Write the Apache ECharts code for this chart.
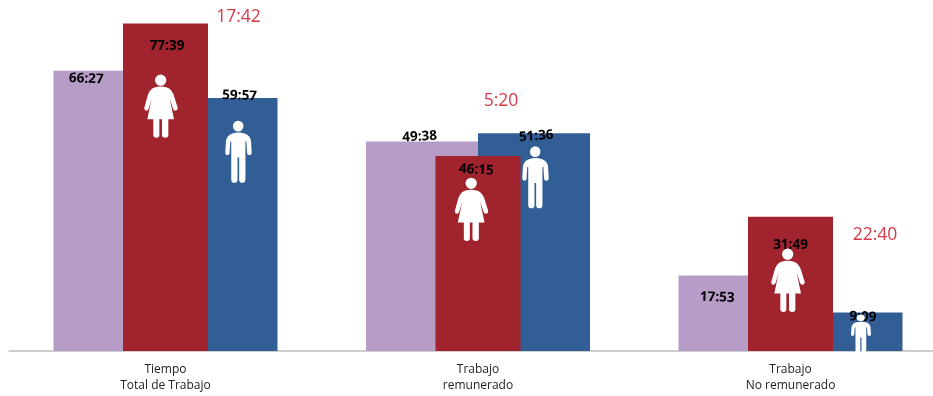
<!DOCTYPE html>
<html>
<head>
<meta charset="utf-8">
<style>html,body{margin:0;padding:0;background:#fff}#chart{width:933px;height:396px}</style>
<script src="https://cdn.jsdelivr.net/npm/echarts@6/dist/echarts.min.js"></script>
</head>
<body>
<div id="chart"></div>
<script>
// Weekly hours of work, written as h:mm
const categories = ['Tiempo\nTotal de Trabajo', 'Trabajo\nremunerado', 'Trabajo\nNo remunerado'];
const totalHours = ['66:27', '49:38', '17:53'];
const womenHours = ['77:39', '46:15', '31:49'];
const menHours = ['59:57', '51:36', '9:09'];
const gapHours = ['17:42', '5:20', '22:40'];

// Hand placement of the labels and figures, relative to each bar
const totalLabelPlace = [[-23, 2, -2], [-2, -12, 3], [-16.5, 15.5, -2]];
const womenLabelPlace = [[1.5, 16.2, 0], [-1, 7, -3], [0, 21, 0]];
const menLabelPlace = [[18, -10, -2], [2, -4, 4], [16.5, -3, -2]];
const gapPlace = [[73, -6.5], [23, -55], [84.5, 18]];
const womanPlace = [[-4.5, 82.7, 33.4, 63.3], [-6.5, 53.4, 33.4, 63.3], [-2.5, 63.5, 33.4, 63.3]];
const manPlace = [[73, 53.7, 26.4, 62], [57.5, 44, 26.4, 62], [70.5, 21.5, 20, 39]];

const WOMAN = 'path://M49 1a17 17 0 1 0 .01 0zM30 40Q49 34 68 40Q84 46 90 68L100 100Q101 108 93 109Q88 109 86 103L76 72L89 135L72 135L72 182Q72 190 63 190Q53 190 53 182L53 135L45 135L45 182Q45 190 36 190Q27 190 27 182L27 135L9 135L22 72L13 103Q11 109 6 109Q-1 108 0 100L9 68Q14 46 30 40Z';
const MAN = 'path://M39 0a16 16 0 1 0 .01 0zM22 38Q40 32 58 38Q74 42 78 60L80 95Q80 103 73 103Q66 103 66 95L64 62L61 62L61 176Q61 186 51 186Q42 186 42 176L42 110L37 110L37 176Q37 186 27 186Q18 186 18 176L18 62L15 62L13 95Q13 103 6 103Q0 103 0 95L2 60Q6 42 22 38Z';

const FONT = '"Open Sans", "Noto Sans", sans-serif';
const toMinutes = t => { const [h, m] = t.split(':').map(Number); return h * 60 + m; };

// Bar items carry their h:mm text as a label nudged off the bar's top edge
const barItems = (times, place) => times.map((t, i) => ({
  value: toMinutes(t),
  label: { show: true, formatter: t, offset: place[i].slice(0, 2), rotate: place[i][2] }
}));
const barLabel = {
  position: 'insideTop', distance: 0, color: '#000',
  fontFamily: FONT, fontWeight: 'bold', fontSize: 13.5
};
const figureItems = (times, place) => times.map((t, i) => ({
  value: [i, toMinutes(t)],
  symbolSize: place[i].slice(2),
  symbolOffset: place[i].slice(0, 2)
}));

const chart = echarts.init(document.getElementById('chart'), null, { renderer: 'canvas' });
chart.setOption({
  animation: false,
  backgroundColor: '#fff',
  grid: { left: 9.25, top: 13.5, width: 937.5, height: 337.5, outerBoundsMode: 'none', containLabel: false },
  xAxis: [
    {
      type: 'category', data: categories,
      axisTick: { show: false },
      axisLine: { lineStyle: { color: '#bdbdbd', width: 1.5 } },
      axisLabel: { interval: 0, hideOverlap: false, color: '#222', fontFamily: FONT, fontSize: 12, lineHeight: 16.5, margin: 10 }
    },
    { type: 'category', data: categories, show: false }
  ],
  yAxis: { type: 'value', min: 0, max: 4800, show: false },
  series: [
    {
      name: 'Total', type: 'bar', xAxisIndex: 0, barWidth: 112, barGap: 0, z: 2,
      itemStyle: { color: '#B79CC8' }, label: barLabel,
      data: barItems(totalHours, totalLabelPlace)
    },
    {
      name: 'Hombres', type: 'bar', xAxisIndex: 0, barWidth: 112, barGap: 0, z: 2,
      itemStyle: { color: '#325E96' }, label: barLabel,
      data: barItems(menHours, menLabelPlace)
    },
    {
      name: 'Mujeres', type: 'bar', xAxisIndex: 1, barWidth: 85, z: 3,
      itemStyle: { color: '#A0232E' }, label: barLabel,
      data: barItems(womenHours, womenLabelPlace)
    },
    {
      name: 'Figura mujer', type: 'scatter', symbol: WOMAN, z: 6, clip: false, silent: true,
      itemStyle: { color: '#fff', opacity: 1 },
      data: figureItems(womenHours, womanPlace)
    },
    {
      name: 'Figura hombre', type: 'scatter', symbol: MAN, z: 6, clip: false, silent: true,
      itemStyle: { color: '#fff', opacity: 1 },
      data: figureItems(menHours, manPlace)
    },
    {
      name: 'Brecha', type: 'scatter', symbolSize: 0, z: 7, clip: false, silent: true,
      itemStyle: { opacity: 1 },
      data: gapHours.map((t, i) => ({
        value: [i, toMinutes(womenHours[i])],
        label: {
          show: true, position: 'inside', formatter: t, offset: gapPlace[i],
          color: '#D93A48', fontFamily: FONT, fontSize: 17.5
        }
      }))
    }
  ]
});
</script>
</body>
</html>
